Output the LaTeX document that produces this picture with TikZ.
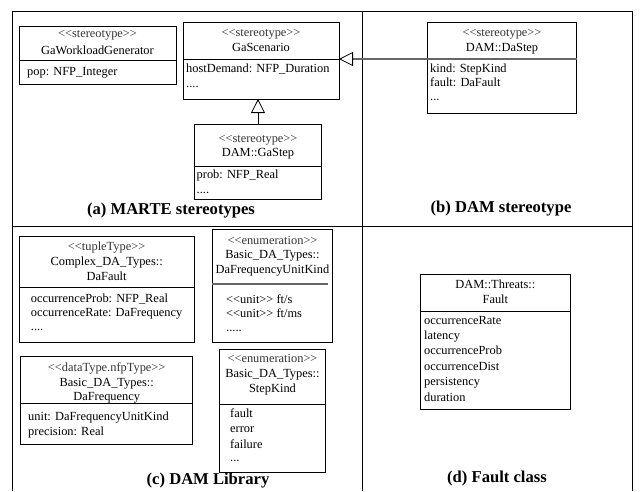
\documentclass[tikz,border=0pt]{standalone}
\usepackage{fontspec}
\setmainfont{Liberation Serif}[Ligatures=TeXOff]
\newfontfamily\umlfont{Liberation Serif}[Ligatures=TeXOff]
\usetikzlibrary{arrows.meta}
\begin{document}
\begin{tikzpicture}[x=1pt,y=-1pt,
  frame/.style={line width=0.8pt},
  classbox/.style={draw, line width=0.8pt, inner sep=0pt, outer sep=0pt},
  sep/.style={line width=0.8pt},
  gsep/.style={draw=black!60, line width=1.3pt},
  stereo/.style={font=\umlfont\fontsize{12.4}{14}\selectfont, text=black!80, inner sep=0pt, anchor=mid},
  cname/.style={font=\umlfont\fontsize{12.4}{14}\selectfont, inner sep=0pt, anchor=mid},
  attr/.style={font=\umlfont\fontsize{12.4}{14}\selectfont, inner sep=0pt, anchor=mid west},
  caption/.style={font=\umlfont\fontsize{16.6}{19}\selectfont\bfseries, inner sep=0pt, anchor=mid},
  inherit/.style={-{Triangle[open, length=14pt, width=14pt, line width=0.8pt, color=black]}, line width=0.8pt},
]
\useasboundingbox (0,0) rectangle (643,491);

% panel frame
\draw[frame] (12,491) -- (12,11) -- (632,11) -- (632,491);
\draw[frame] (362,11) -- (362,491);
\draw[frame] (12,226) -- (632,226);

% ---------- (a) MARTE stereotypes ----------
\node[classbox, minimum width=157pt, minimum height=58pt] (gwg) at (97.5,55) {};
\draw[sep] (19,60) -- (176,60);
\node[stereo] (gwg-s) at (97.5,35) {<{}<stereotype>{}>};
\node[cname]  (gwg-n) at (97.5,52) {GaWorkloadGenerator};
\node[attr]   (gwg-a) at (27,73) {pop: NFP\_Integer};

\node[classbox, minimum width=156pt, minimum height=76.3pt] (gasc) at (261,60.85) {};
\draw[sep] (183,59.3) -- (339,59.3);
\node[stereo] (gasc-s) at (261,34) {<{}<stereotype>{}>};
\node[cname]  (gasc-n) at (261,49.3) {GaScenario};
\node[attr]   (gasc-a1) at (186,70.7) {hostDemand: NFP\_Duration};
\node[attr]   (gasc-a2) at (186,85.7) {....};

\node[classbox, minimum width=127.4pt, minimum height=74.7pt] (gastep) at (258,161.65) {};
\draw[sep] (194.3,166) -- (321.7,166);
\node[stereo] (gastep-s) at (258,140) {<{}<stereotype>{}>};
\node[cname]  (gastep-n) at (258,154) {DAM::GaStep};
\node[attr]   (gastep-a1) at (196.5,176) {prob: NFP\_Real};
\node[attr]   (gastep-a2) at (196.5,191) {....};

\draw[inherit] (gastep.north) -- (gastep.north |- gasc.south);

\node[caption] (capa) at (171,211.7) {(a) MARTE stereotypes};

% ---------- (b) DAM stereotype ----------
\node[classbox, minimum width=149.4pt, minimum height=90.6pt] (dastep) at (502,68) {};
\coordinate (dsjoin) at (427.3,59);
\draw[gsep] (dsjoin) -- (576.7,59);
\node[stereo] (dastep-s) at (502,34) {<{}<stereotype>{}>};
\node[cname]  (dastep-n) at (502,49.3) {DAM::DaStep};
\node[attr]   (dastep-a1) at (430,70.7) {kind: StepKind};
\node[attr]   (dastep-a2) at (430,84.3) {fault: DaFault};
\node[attr]   (dastep-a3) at (430,98.5) {...};

\draw[inherit, draw=black!60, line width=1.3pt] (dsjoin) -- (gasc.east |- dsjoin);

\node[caption] (capb) at (501,210) {(b) DAM stereotype};

% ---------- (c) DAM Library ----------
\node[classbox, minimum width=175.3pt, minimum height=106.3pt] (dafault) at (106.65,289.15) {};
\draw[sep] (19,287.3) -- (194.3,287.3);
\node[stereo] (dafault-s)  at (106.65,248.3) {<{}<tupleType>{}>};
\node[cname]  (dafault-n1) at (106.65,263.3) {Complex\_DA\_Types::};
\node[cname]  (dafault-n2) at (106.65,278.3) {DaFault};
\node[attr]   (dafault-a1) at (30.7,300) {occurrenceProb: NFP\_Real};
\node[attr]   (dafault-a2) at (30.7,314.3) {occurrenceRate: DaFrequency};
\node[attr]   (dafault-a3) at (30.7,328.6) {....};

\node[classbox, minimum width=120.4pt, minimum height=113pt] (dafuk) at (272.5,285.8) {};
\draw[gsep] (212.3,284) -- (328.3,284);
\node[stereo] (dafuk-s)  at (272.5,241.7) {<{}<enumeration>{}>};
\node[cname]  (dafuk-n1) at (272.5,256) {Basic\_DA\_Types::};
\node[cname]  (dafuk-n2) at (272.5,271) {DaFrequencyUnitKind};
\node[attr]   (dafuk-a1) at (226,301) {<{}<unit>{}> ft/s};
\node[attr]   (dafuk-a2) at (226,315) {<{}<unit>{}> ft/ms};
\node[attr]   (dafuk-a3) at (226,329) {.....};

\node[classbox, minimum width=172pt, minimum height=87.3pt] (dafreq) at (106.7,400.35) {};
\draw[sep] (20.7,403.3) -- (192.7,403.3);
\node[stereo] (dafreq-s)  at (106.7,369.3) {<{}<dataType.nfpType>{}>};
\node[cname]  (dafreq-n1) at (106.7,384.3) {Basic\_DA\_Types::};
\node[cname]  (dafreq-n2) at (106.7,398.3) {DaFrequency};
\node[attr]   (dafreq-a1) at (28,418.3) {unit: DaFrequencyUnitKind};
\node[attr]   (dafreq-a2) at (28,433.3) {precision: Real};

\node[classbox, minimum width=106.4pt, minimum height=123.4pt] (stepkind) at (272.5,411) {};
\draw[sep] (219.3,404) -- (325.7,404);
\node[stereo] (stepkind-s)  at (272.5,360) {<{}<enumeration>{}>};
\node[cname]  (stepkind-n1) at (272.5,375) {Basic\_DA\_Types::};
\node[cname]  (stepkind-n2) at (272.5,390) {StepKind};
\node[attr]   (stepkind-a1) at (230,415) {fault};
\node[attr]   (stepkind-a2) at (230,430) {error};
\node[attr]   (stepkind-a3) at (230,445.7) {failure};
\node[attr]   (stepkind-a4) at (230,459) {...};

\node[caption] (capc) at (208,482) {(c) DAM Library};

% ---------- (d) Fault class ----------
\node[classbox, minimum width=149.3pt, minimum height=135pt] (fault) at (495.35,341.8) {};
\draw[sep] (420.7,311) -- (570,311);
\node[cname] (fault-n1) at (495.35,286) {DAM::Threats::};
\node[cname] (fault-n2) at (495.35,300.7) {Fault};
\foreach \t [count=\i from 0] in {occurrenceRate, latency, occurrenceProb, occurrenceDist, persistency, duration}
  \node[attr] (fault-a\i) at ({424},{321.7+15.45*\i}) {\t};

\node[caption] (capd) at (497,480) {(d) Fault class};
\end{tikzpicture}
\end{document}
